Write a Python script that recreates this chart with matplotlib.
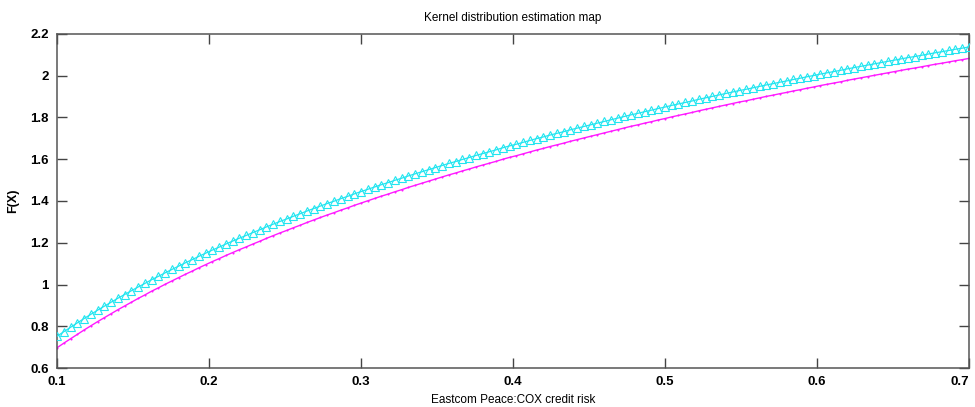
import numpy as np
import matplotlib
matplotlib.use("Agg")
import matplotlib.pyplot as plt
from matplotlib.ticker import FuncFormatter

# ---- data ----
x_risk = np.linspace(0.1, 0.7, 136)

f_magenta = [
    0.697, 0.719, 0.740, 0.761, 0.782, 0.802, 0.822, 0.841, 0.860, 0.879,
    0.897, 0.915, 0.933, 0.950, 0.968, 0.984, 1.001, 1.017, 1.033, 1.049,
    1.064, 1.080, 1.095, 1.110, 1.124, 1.139, 1.153, 1.167, 1.180, 1.194,
    1.207, 1.221, 1.234, 1.247, 1.259, 1.272, 1.284, 1.297, 1.309, 1.321,
    1.333, 1.344, 1.356, 1.367, 1.379, 1.390, 1.401, 1.412, 1.423, 1.433,
    1.444, 1.454, 1.465, 1.475, 1.485, 1.495, 1.505, 1.515, 1.525, 1.534,
    1.544, 1.553, 1.563, 1.572, 1.581, 1.590, 1.600, 1.609, 1.617, 1.626,
    1.635, 1.644, 1.652, 1.661, 1.669, 1.677, 1.686, 1.694, 1.702, 1.710,
    1.718, 1.726, 1.734, 1.742, 1.750, 1.758, 1.765, 1.773, 1.780, 1.788,
    1.795, 1.803, 1.810, 1.817, 1.824, 1.832, 1.839, 1.846, 1.853, 1.860,
    1.867, 1.874, 1.880, 1.887, 1.894, 1.901, 1.907, 1.914, 1.920, 1.927,
    1.933, 1.940, 1.946, 1.953, 1.959, 1.965, 1.971, 1.978, 1.984, 1.990,
    1.996, 2.002, 2.008, 2.014, 2.020, 2.026, 2.032, 2.037, 2.043, 2.049,
    2.055, 2.060, 2.066, 2.072, 2.077, 2.083,
]

f_cyan = [
    0.752, 0.774, 0.795, 0.816, 0.837, 0.857, 0.877, 0.896, 0.915, 0.934,
    0.952, 0.970, 0.988, 1.005, 1.023, 1.039, 1.056, 1.072, 1.088, 1.104,
    1.119, 1.135, 1.150, 1.165, 1.179, 1.194, 1.208, 1.222, 1.235, 1.249,
    1.262, 1.276, 1.289, 1.302, 1.314, 1.327, 1.339, 1.352, 1.364, 1.376,
    1.388, 1.399, 1.411, 1.422, 1.434, 1.445, 1.456, 1.467, 1.478, 1.488,
    1.499, 1.509, 1.520, 1.530, 1.540, 1.550, 1.560, 1.570, 1.580, 1.589,
    1.599, 1.608, 1.618, 1.627, 1.636, 1.645, 1.655, 1.664, 1.672, 1.681,
    1.690, 1.699, 1.707, 1.716, 1.724, 1.732, 1.741, 1.749, 1.757, 1.765,
    1.773, 1.781, 1.789, 1.797, 1.805, 1.813, 1.820, 1.828, 1.835, 1.843,
    1.850, 1.858, 1.865, 1.872, 1.879, 1.887, 1.894, 1.901, 1.908, 1.915,
    1.922, 1.929, 1.935, 1.942, 1.949, 1.956, 1.962, 1.969, 1.975, 1.982,
    1.988, 1.995, 2.001, 2.008, 2.014, 2.020, 2.026, 2.033, 2.039, 2.045,
    2.051, 2.057, 2.063, 2.069, 2.075, 2.081, 2.087, 2.092, 2.098, 2.104,
    2.110, 2.115, 2.121, 2.127, 2.132, 2.138,
]

x_ticks = [0.1, 0.2, 0.3, 0.4, 0.5, 0.6, 0.7]
y_ticks = [0.6, 0.8, 1.0, 1.2, 1.4, 1.6, 1.8, 2.0, 2.2]

title_text = "Kernel distribution estimation map"
xlabel_text = "Eastcom Peace:COX credit risk"
ylabel_text = "F(X)"

# ---- figure ----
plt.rcParams['font.family'] = ['Liberation Sans', 'DejaVu Sans']
fig = plt.figure(figsize=(9.75, 4.07), dpi=100)
ax = fig.add_axes([0.0585, 0.0958, 0.9353, 0.8207])

cyan = '#22e5f0'
magenta = '#ff1aff'

ax.plot(x_risk, f_magenta, color=magenta, lw=1.0, marker='.', ms=3,
        markeredgewidth=0, zorder=2)
ax.plot(x_risk, f_cyan, color=cyan, lw=0.9, marker='^', ms=5.6,
        markerfacecolor='none', markeredgecolor=cyan, markeredgewidth=0.8,
        zorder=3)

ax.set_xlim(0.1, 0.7)
ax.set_ylim(0.6, 2.2)
ax.set_xticks(x_ticks)
ax.set_yticks(y_ticks)
ax.yaxis.set_major_formatter(FuncFormatter(lambda v, p: f"{v:g}"))
ax.xaxis.set_major_formatter(FuncFormatter(lambda v, p: f"{v:g}"))

ax.tick_params(direction='in', length=7, width=1.0, color='#444444',
               top=True, right=True, labelsize=9.5, pad=6)
for lab in ax.get_xticklabels() + ax.get_yticklabels():
    lab.set_fontweight('bold')
ax.get_xticklabels()[-1].set_horizontalalignment('right')
for s in ax.spines.values():
    s.set_color('#555555')
    s.set_linewidth(1.1)

ax.set_title(title_text, fontsize=8.5, pad=9)
ax.set_xlabel(xlabel_text, fontsize=8.5, labelpad=4)
ax.set_ylabel(ylabel_text, fontsize=9, fontweight='bold', labelpad=8)

fig.savefig("out.png", dpi=100)
